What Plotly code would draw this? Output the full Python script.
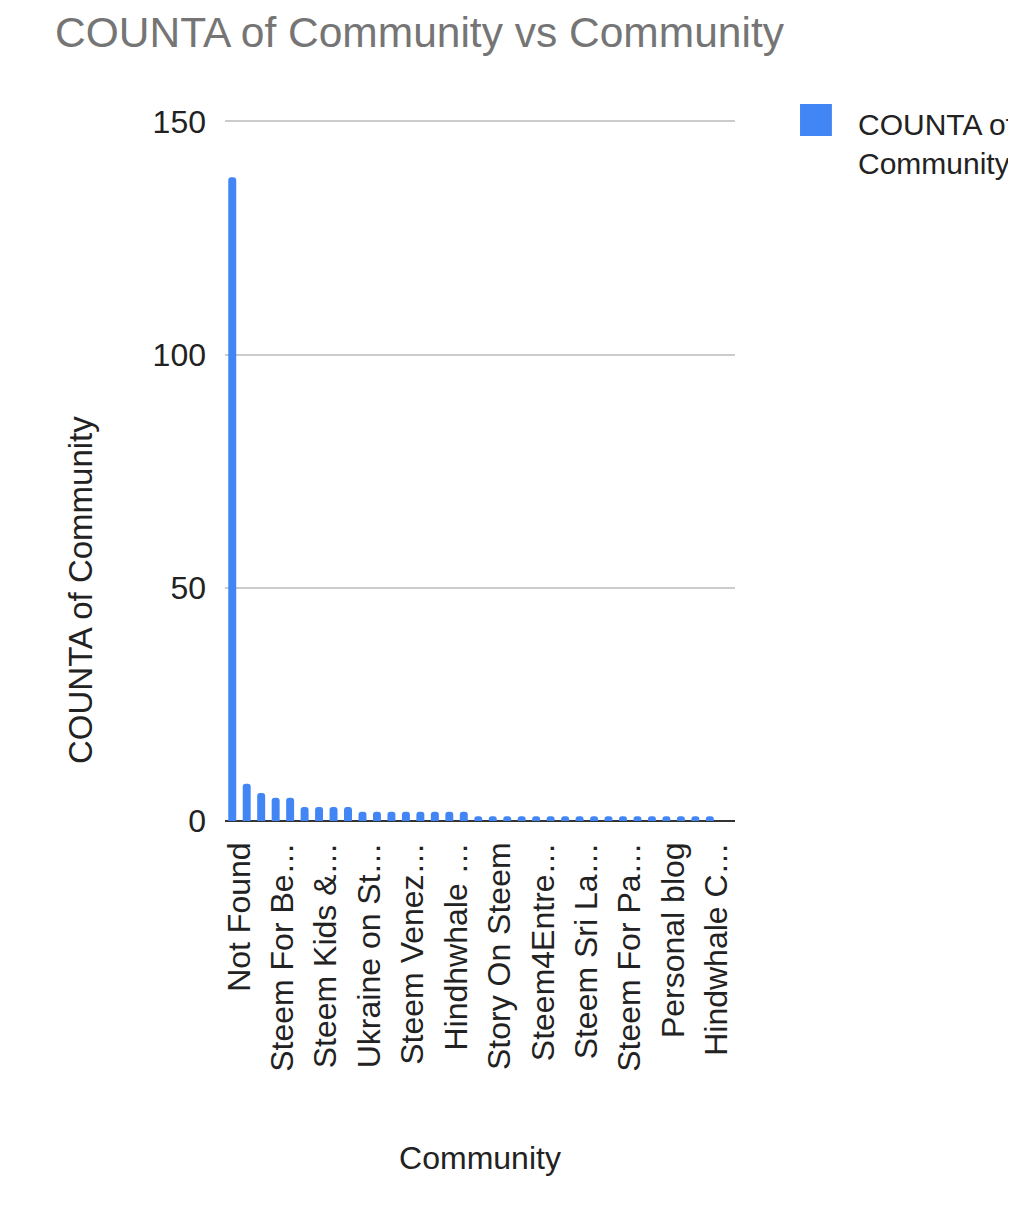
import plotly.graph_objects as go

# Community names (only every third one is shown on the axis, like the original)
communities = [
    "Not Found", "Steemit Crypto Academy", "Newcomers' Community",
    "Steem For Betterlife", "Steem Alliance", "Steem Bangladesh",
    "Steem Kids & Parents", "Steem Nigeria", "Steem Philippines",
    "Ukraine on Steem", "Steem Indonesia", "Steem Ghana",
    "Steem Venezuela", "Steem Kenya", "Steem Pakistan",
    "Hindhwhale Music", "Steem Africa", "Steem Women Club",
    "Story On Steem", "Steem Schools", "Steem Fashion",
    "Steem4Entrepreneurs", "Steem Food", "Steem Travel",
    "Steem Sri Lanka", "Steem Photography", "Steem Art",
    "Steem For Pakistan", "Steem Sports", "Steem Gaming",
    "Personal blog", "Steem Music", "Steem Books",
    "Hindwhale Community",
]
counts = [
    138, 8, 6, 5, 5, 3, 3, 3, 3,
    2, 2, 2, 2, 2, 2, 2, 2,
    1, 1, 1, 1, 1, 1, 1, 1, 1, 1, 1, 1, 1, 1, 1, 1, 1,
]
tick_labels = [
    "Not Found", "Steem For Be…", "Steem Kids &…", "Ukraine on St…",
    "Steem Venez…", "Hindhwhale …", "Story On Steem", "Steem4Entre…",
    "Steem Sri La…", "Steem For Pa…", "Personal blog", "Hindwhale C…",
]
y_ticks = [0, 50, 100, 150]

series_name = "COUNTA of Community"
blue = "#4285F4"
font = "Liberation Sans, Arial, sans-serif"

fig = go.Figure()
fig.add_trace(go.Bar(
    x=communities,
    y=counts,
    name=series_name,
    marker=dict(color=blue, cornerradius=4, line=dict(width=0)),
    showlegend=False,
))

# legend drawn by hand, the big square of the original can't be done by plotly's legend
fig.add_shape(
    type="rect", xref="paper", yref="paper",
    x0=1.1275, x1=1.19, y0=0.977, y1=1.0228,
    fillcolor=blue, line=dict(width=0),
)
fig.add_annotation(
    text="COUNTA of<br>Community", xref="paper", yref="paper",
    x=1.2373, y=0.9658, xanchor="left", yanchor="middle", align="left",
    showarrow=False, font=dict(family=font, size=30, color="#222222"),
)
# y title sits lower than the plot centre in the original, so it is an annotation
fig.add_annotation(
    text=series_name, xref="paper", yref="paper",
    x=-0.2843, y=0.3295, xanchor="center", yanchor="middle", textangle=-90,
    showarrow=False, font=dict(family=font, size=33, color="#222222"),
)

# page body has an 8px margin, so the figure is 8px smaller on each side
fig.update_layout(
    width=1008,
    height=1198,
    margin=dict(l=217, r=281, t=112, b=385, autoexpand=False),
    paper_bgcolor="white",
    plot_bgcolor="white",
    font=dict(family=font, color="#222222"),
    bargap=0.45,
    title=dict(
        text="COUNTA of Community vs Community",
        x=47 / 1008, xanchor="left", xref="container",
        y=1 - 24 / 1198, yanchor="middle", yref="container",
        font=dict(family=font, size=42.5, color="#757575"),
    ),
)
fig.update_xaxes(
    range=[-0.5, 34.74],  # grid runs past the last bar in the original
    tickmode="array",
    tickvals=communities[::3],
    ticktext=tick_labels,
    tickangle=-90,
    tickfont=dict(size=32, color="#222222"),
    ticks="",
    ticklabelstandoff=14,
    ticklabelshift=7,
    showgrid=False,
    automargin=False,
    title=dict(text="Community", standoff=75, font=dict(size=32, color="#222222")),
)
fig.update_yaxes(
    range=[0, 150.3],
    tickvals=y_ticks,
    tickfont=dict(size=32, color="#222222"),
    ticks="",
    ticklabelstandoff=18,
    showgrid=True,
    gridcolor="#cccccc",
    gridwidth=2,
    zeroline=True,
    zerolinecolor="#333333",
    zerolinewidth=2,
    automargin=False,
)

fig.write_html("out.html")
